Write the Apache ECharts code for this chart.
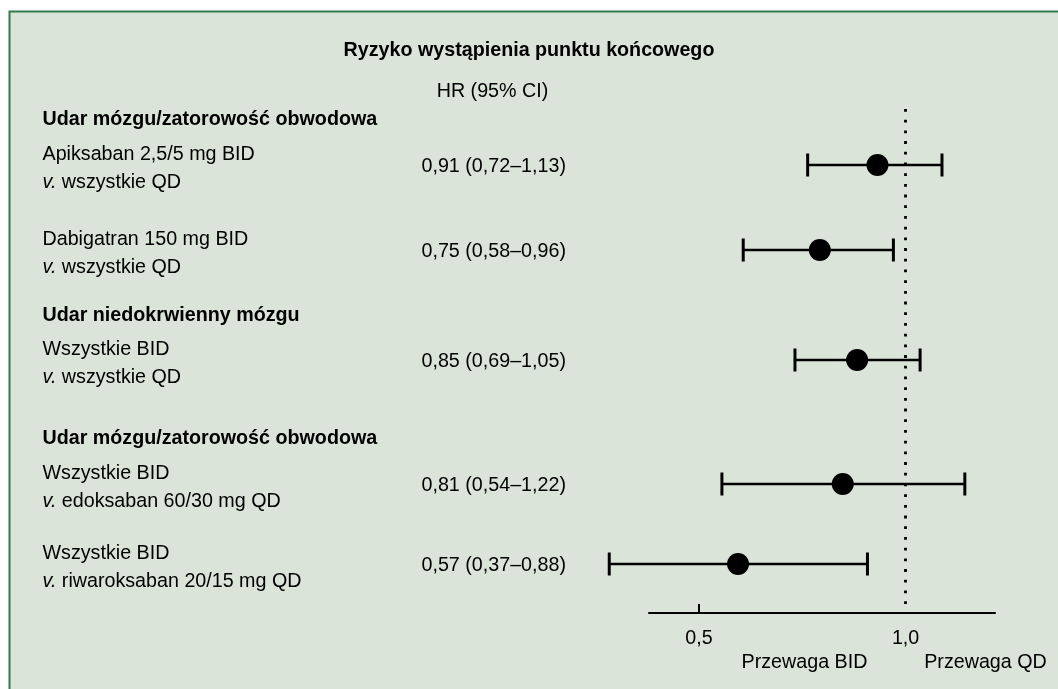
<!DOCTYPE html>
<html>
<head>
<meta charset="utf-8">
<title>Ryzyko wystąpienia punktu końcowego</title>
<script src="https://cdn.jsdelivr.net/npm/echarts@6/dist/echarts.min.js"></script>
<style>
  html, body { margin: 0; padding: 0; background: #ffffff; }
  #chart { width: 1058px; height: 689px; }
</style>
</head>
<body>
<div id="chart"></div>
<script>
// ---- data: hazard ratios (BID vs QD) with 95% confidence intervals ----
const sectionTitles = [
  'Udar mózgu/zatorowość obwodowa',
  'Udar niedokrwienny mózgu',
  'Udar mózgu/zatorowość obwodowa'
];
const comparisonTop = [
  'Apiksaban 2,5/5 mg BID',
  'Dabigatran 150 mg BID',
  'Wszystkie BID',
  'Wszystkie BID',
  'Wszystkie BID'
];
const comparisonBottom = [
  'wszystkie QD',
  'wszystkie QD',
  'wszystkie QD',
  'edoksaban 60/30 mg QD',
  'riwaroksaban 20/15 mg QD'
];
const hazardRatio = [0.91, 0.75, 0.85, 0.81, 0.57];
const ciLower = [0.72, 0.58, 0.69, 0.54, 0.37];
const ciUpper = [1.13, 0.96, 1.05, 1.22, 0.88];
const xTickValues = [0.5, 1.0];
const xTickLabels = ['0,5', '1,0'];
const xTickMarks = [0.5];
const referenceHR = 1.0;

// ---- layout (vertical slots on a hidden row axis, top-down) ----
const ROW_AXIS_MAX = 504;
const rowSlot = [56, 141, 251, 375, 455];
const sectionSlot = [9, 205, 328];

const FONT_FAMILY = '"Liberation Sans", Arial, Helvetica, sans-serif';
const FS = 19.7;
const FONT = FS + 'px ' + FONT_FAMILY;
const FONT_BOLD = 'bold ' + FS + 'px ' + FONT_FAMILY;
const FONT_ITALIC = 'italic ' + FS + 'px ' + FONT_FAMILY;
const INK = '#000000';
const LABEL_X = 42.5;
const VALUE_X = 421.5;
const LINE_GAP = 28.5;
const TEXT_DY = 2;          // optical centring of glyphs on a middle baseline
const LABEL_SHIFT = 1.5;    // two-line labels sit slightly below the marker row
const CAP_HALF = 11.5;

const fmt = v => v.toFixed(2).replace('.', ',');
const ciText = i => fmt(hazardRatio[i]) + ' (' + fmt(ciLower[i]) + '–' + fmt(ciUpper[i]) + ')';

const centred = { align: 'center', verticalAlign: 'middle', textAlign: 'center', textVerticalAlign: 'middle' };
const leftMid = { align: 'left', verticalAlign: 'middle', textAlign: 'left', textVerticalAlign: 'middle' };

const chart = echarts.init(document.getElementById('chart'), null, { renderer: 'canvas' });

const option = {
  animation: false,
  backgroundColor: '#ffffff',
  title: {
    text: 'Ryzyko wystąpienia punktu końcowego',
    left: 'center',
    top: 36,
    textStyle: { fontFamily: FONT_FAMILY, fontSize: FS, fontWeight: 'bold', color: INK }
  },
  graphic: [
    {
      type: 'rect', z: -10, silent: true,
      shape: { x: 9.5, y: 11.5, width: 1100, height: 700 },
      style: { fill: '#dae4d9', stroke: '#347a50', lineWidth: 2 }
    },
    {
      type: 'text', x: 492.5, y: 90 + TEXT_DY, silent: true,
      style: Object.assign({ text: 'HR (95% CI)', font: FONT, fill: INK }, centred)
    },
    {
      type: 'text', x: 804.5, y: 661 + TEXT_DY, silent: true,
      style: Object.assign({ text: 'Przewaga BID', font: FONT, fill: INK }, centred)
    },
    {
      type: 'text', x: 985.5, y: 661 + TEXT_DY, silent: true,
      style: Object.assign({ text: 'Przewaga QD', font: FONT, fill: INK }, centred)
    }
  ],
  grid: { left: 649, right: 63, top: 109, bottom: 76, containLabel: false },
  xAxis: {
    type: 'log',
    logBase: 10,
    min: 0.4228,
    max: 1.35,
    axisLine: { show: true, onZero: false, lineStyle: { color: INK, width: 2 } },
    axisTick: { show: true, inside: true, length: 9, customValues: xTickMarks, lineStyle: { color: INK, width: 2 } },
    axisLabel: {
      show: true,
      customValues: xTickValues,
      margin: 16,
      color: INK,
      fontFamily: FONT_FAMILY,
      fontSize: FS,
      formatter: v => {
        const k = xTickValues.findIndex(t => Math.abs(t - v) < 1e-9);
        return k >= 0 ? xTickLabels[k] : '';
      }
    },
    splitLine: { show: false },
    minorTick: { show: false },
    minorSplitLine: { show: false }
  },
  yAxis: {
    type: 'value',
    inverse: true,
    min: 0,
    max: ROW_AXIS_MAX,
    show: false
  },
  series: [
    {
      // confidence interval whiskers with end caps
      type: 'custom',
      name: 'CI',
      z: 3,
      encode: { x: [0, 1], y: 2 },
      data: ciLower.map((lo, i) => [lo, ciUpper[i], rowSlot[i]]),
      renderItem: (params, api) => {
        const a = api.coord([api.value(0), api.value(2)]);
        const b = api.coord([api.value(1), api.value(2)]);
        const ls = { stroke: INK, lineWidth: 2.5, fill: null };
        const cs = { stroke: INK, lineWidth: 3, fill: null };
        return {
          type: 'group',
          children: [
            { type: 'line', shape: { x1: a[0], y1: a[1], x2: b[0], y2: b[1] }, style: ls },
            { type: 'line', shape: { x1: a[0], y1: a[1] - CAP_HALF, x2: a[0], y2: a[1] + CAP_HALF }, style: cs },
            { type: 'line', shape: { x1: b[0], y1: b[1] - CAP_HALF, x2: b[0], y2: b[1] + CAP_HALF }, style: cs }
          ]
        };
      }
    },
    {
      // point estimates
      type: 'scatter',
      name: 'HR',
      z: 5,
      symbol: 'circle',
      symbolSize: 22,
      itemStyle: { color: INK, opacity: 1 },
      data: hazardRatio.map((v, i) => [v, rowSlot[i]]),
      markLine: {
        silent: true,
        symbol: ['none', 'none'],
        label: { show: false },
        lineStyle: { color: INK, width: 2.8, type: [2.8, 7.9], cap: 'butt' },
        emphasis: { disabled: true },
        data: [{ xAxis: referenceHR }]
      }
    },
    {
      // comparison labels and HR (95% CI) text for each row
      type: 'custom',
      name: 'rowText',
      z: 4,
      silent: true,
      encode: { x: 0, y: 1 },
      data: hazardRatio.map((v, i) => [v, rowSlot[i]]),
      renderItem: (params, api) => {
        const i = params.dataIndex;
        const y = api.coord([api.value(0), api.value(1)])[1] + TEXT_DY;
        const yl = y + LABEL_SHIFT;
        const common = Object.assign({ fill: INK }, leftMid);
        return {
          type: 'group',
          children: [
            { type: 'text', x: LABEL_X, y: yl - LINE_GAP / 2,
              style: Object.assign({ text: comparisonTop[i], font: FONT }, common) },
            { type: 'text', x: LABEL_X, y: yl + LINE_GAP / 2,
              style: Object.assign({
                text: '{it|v.}{rg| ' + comparisonBottom[i] + '}',
                font: FONT,
                rich: {
                  it: { font: FONT_ITALIC, fill: INK },
                  rg: { font: FONT, fill: INK }
                }
              }, common) },
            { type: 'text', x: VALUE_X, y: y,
              style: Object.assign({ text: ciText(i), font: FONT }, common) }
          ]
        };
      }
    },
    {
      // section headings
      type: 'custom',
      name: 'sections',
      z: 4,
      silent: true,
      encode: { x: 0, y: 1 },
      data: sectionSlot.map(s => [referenceHR, s]),
      renderItem: (params, api) => {
        const i = params.dataIndex;
        const y = api.coord([api.value(0), api.value(1)])[1] + TEXT_DY;
        return {
          type: 'text', x: LABEL_X, y: y,
          style: Object.assign({ text: sectionTitles[i], font: FONT_BOLD, fill: INK }, leftMid)
        };
      }
    }
  ]
};

chart.setOption(option);
</script>
</body>
</html>
